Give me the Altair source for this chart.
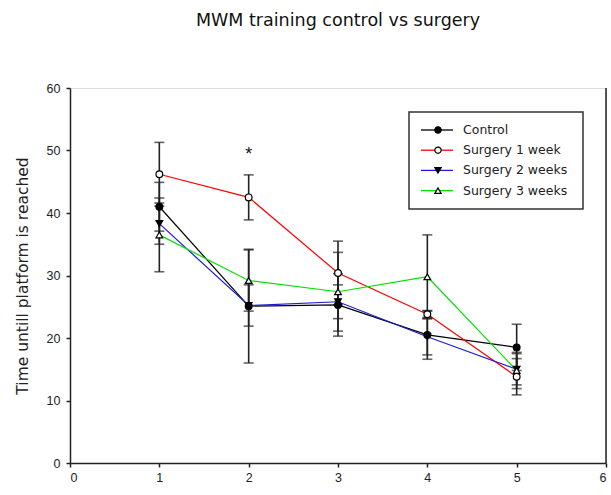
import altair as alt
import pandas as pd

# Morris water maze training: mean time to reach platform per training day
days = [1, 2, 3, 4, 5]
series_names = ["Control", "Surgery 1 week", "Surgery 2 weeks", "Surgery 3 weeks"]

control = [41.0, 25.1, 25.3, 20.5, 18.5]
control_err = [3.9, 9.1, 5.0, 3.9, 3.7]
surgery_1w = [46.2, 42.5, 30.4, 23.8, 13.8]
surgery_1w_err = [5.1, 3.6, 5.1, 0.5, 2.9]
surgery_2w = [38.3, 25.2, 25.8, 20.2, 15.0]
surgery_2w_err = [3.3, 3.3, 2.7, 2.9, 2.5]
surgery_3w = [36.5, 29.2, 27.4, 29.8, 14.8]
surgery_3w_err = [5.9, 4.9, 6.3, 6.7, 2.9]

# significance marker
star_day = [2]
star_value = [49.8]

line_colors = ["#000000", "#ff0000", "#1c1cd8", "#00e000"]
marker_shapes = ["circle", "circle", "triangle-down", "triangle-up"]
marker_fills = ["#000000", "#ffffff", "#000000", "#ffffff"]

FONT = "Liberation Sans"
WIDE = "DejaVu Sans"

rows = []
for name, vals, errs in zip(
    series_names,
    [control, surgery_1w, surgery_2w, surgery_3w],
    [control_err, surgery_1w_err, surgery_2w_err, surgery_3w_err],
):
    for d, v, e in zip(days, vals, errs):
        rows.append({"day": d, "time": v, "lo": v - e, "hi": v + e, "group": name})
df = pd.DataFrame(rows)

W, H = 536, 375
x_scale = alt.Scale(domain=[0, 6], nice=False, zero=False)
y_scale = alt.Scale(domain=[0, 60], nice=False)
color_scale = alt.Scale(domain=series_names, range=line_colors)
shape_scale = alt.Scale(domain=series_names, range=marker_shapes)
fill_scale = alt.Scale(domain=series_names, range=marker_fills)

x_axis = alt.Axis(
    values=[0, 1, 2, 3, 4, 5, 6], format="d", title=None, grid=False,
    domainColor="#222", tickColor="#222", tickSize=4, labelFont=FONT,
    labelFontSize=12.5, labelColor="#222", labelPadding=4,
    domainWidth=1.5, tickWidth=1.5,
)
y_axis = alt.Axis(
    values=[0, 10, 20, 30, 40, 50, 60], format="d",
    title="Time untill platform is reached",
    grid=False, domainColor="#222", tickColor="#222", tickSize=4,
    labelFont=FONT, labelFontSize=12.5, labelColor="#222", labelPadding=6,
    titleFont=WIDE, titleFontSize=15.5, titleFontWeight="normal", titleColor="#222",
    titleX=-48, titleY=H / 2, titleAngle=-90, titleAlign="center",
    titleBaseline="middle", domainWidth=1.5, tickWidth=1.5,
)

base = alt.Chart(df)

lines = base.mark_line(strokeWidth=1.2).encode(
    x=alt.X("day:Q", scale=x_scale, axis=x_axis),
    y=alt.Y("time:Q", scale=y_scale, axis=y_axis),
    color=alt.Color("group:N", scale=color_scale, legend=None),
    detail="group:N",
)

err_rules = base.mark_rule(color="#222", strokeWidth=1.6).encode(
    x="day:Q", y="lo:Q", y2="hi:Q"
)
cap_lo = base.mark_tick(color="#222", orient="horizontal", size=10, thickness=1.6).encode(
    x="day:Q", y="lo:Q"
)
cap_hi = base.mark_tick(color="#222", orient="horizontal", size=10, thickness=1.6).encode(
    x="day:Q", y="hi:Q"
)

points = base.mark_point(size=45, stroke="#000", strokeWidth=1.2, opacity=1).encode(
    x="day:Q",
    y="time:Q",
    shape=alt.Shape("group:N", scale=shape_scale, legend=None),
    fill=alt.Fill("group:N", scale=fill_scale, legend=None),
)

star = alt.Chart(pd.DataFrame({"day": star_day, "time": star_value, "t": ["*"]})).mark_text(
    font=FONT, fontSize=18, color="#111", baseline="middle", dy=3
).encode(x="day:Q", y="time:Q", text="t:N")

right_edge = alt.Chart(pd.DataFrame({"a": [0]})).mark_rule(
    color="#222", strokeWidth=1.5
).encode(x=alt.value(W), y=alt.value(0), y2=alt.value(H))

# legend panel
leg = pd.DataFrame({"group": series_names, "idx": [0, 1, 2, 3]})
leg_base = alt.Chart(leg).transform_calculate(ly="42 + 20.2 * datum.idx")

leg_box = alt.Chart(pd.DataFrame({"a": [0]})).mark_rect(
    fill="white", stroke="#333", strokeWidth=1.5
).encode(x=alt.value(339), x2=alt.value(513), y=alt.value(24), y2=alt.value(121))

leg_lines = leg_base.mark_rule(strokeWidth=1.3).encode(
    x=alt.value(351), x2=alt.value(383),
    y=alt.Y("ly:Q", scale=None),
    color=alt.Color("group:N", scale=color_scale, legend=None),
)
leg_marks = leg_base.mark_point(size=40, stroke="#000", strokeWidth=1.2, opacity=1).encode(
    x=alt.value(368),
    y=alt.Y("ly:Q", scale=None),
    shape=alt.Shape("group:N", scale=shape_scale, legend=None),
    fill=alt.Fill("group:N", scale=fill_scale, legend=None),
)
leg_text = leg_base.mark_text(
    align="left", baseline="middle", font=WIDE, fontSize=12.5, color="#222"
).encode(x=alt.value(393), y=alt.Y("ly:Q", scale=None), text="group:N")

chart = alt.layer(
    lines, err_rules, cap_lo, cap_hi, points, star, right_edge,
    leg_box, leg_lines, leg_marks, leg_text,
).properties(
    width=W,
    height=H,
    title=alt.TitleParams(
        text="MWM training control vs surgery", font=WIDE, fontSize=17.5,
        fontWeight="normal", color="#111", anchor="middle", offset=53,
    ),
    autosize=alt.AutoSizeParams(type="none"),
    padding={"left": 70, "top": 88, "right": 5, "bottom": 32},
).configure_view(stroke=None).configure(background="white")

chart.save("out.html", embed_options={"renderer": "svg", "actions": False})
